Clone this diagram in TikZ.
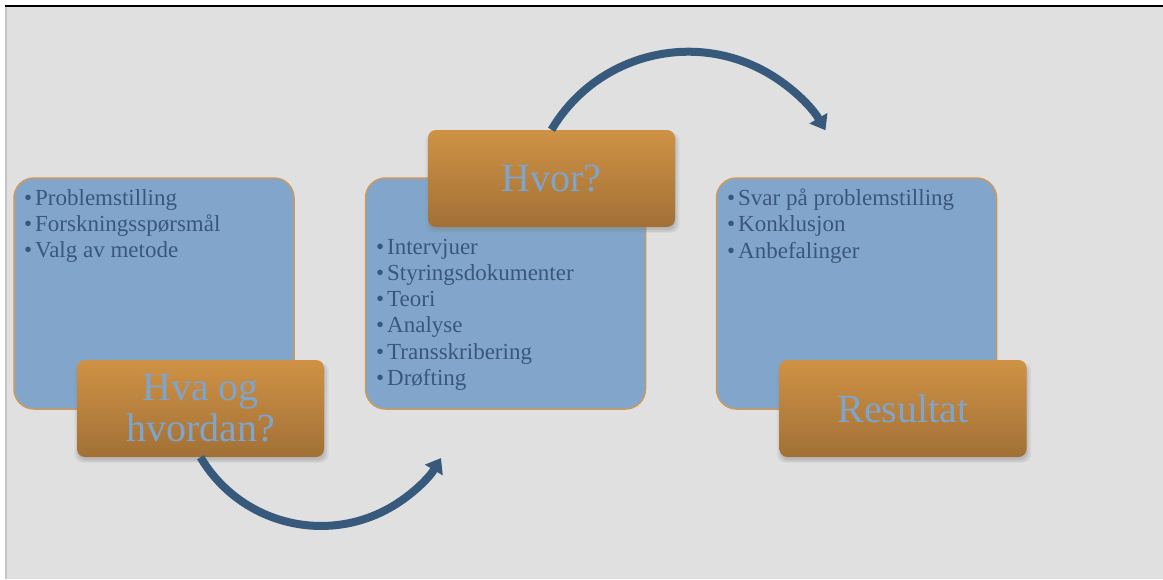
\documentclass[tikz,border=0pt]{standalone}
\usepackage{fontspec}
\setmainfont{Liberation Serif}
\usetikzlibrary{arrows.meta,shadows}

\definecolor{bggray}{HTML}{E0E0E0}
\definecolor{framegray}{HTML}{C4C4C4}
\definecolor{boxblue}{HTML}{82A6CB}
\definecolor{boxline}{HTML}{C99A5E}
\definecolor{itemblue}{HTML}{3A577A}
\definecolor{headblue}{HTML}{7DA5CE}
\definecolor{orangetop}{HTML}{CF9245}
\definecolor{orangemid}{HTML}{BB8440}
\definecolor{orangebot}{HTML}{A27036}
\definecolor{arrowblue}{HTML}{375A7C}

\tikzset{
  bluebox/.style={draw=boxline, line width=1.5pt, fill=boxblue,
    rounded corners=20pt, minimum width=280pt, minimum height=231pt, inner sep=0pt},
  orangebox/.style={rounded corners=8pt, top color=orangetop, middle color=orangemid,
    bottom color=orangebot, minimum width=247pt, minimum height=97pt, inner sep=0pt,
    align=center, text=headblue, font=\fontsize{40}{41}\selectfont,
    drop shadow={shadow xshift=1pt, shadow yshift=-4pt, opacity=.10, shadow scale=1.03},
    drop shadow={shadow xshift=1pt, shadow yshift=-4pt, opacity=.14, shadow scale=1.015},
    drop shadow={shadow xshift=1pt, shadow yshift=-3pt, opacity=.2}},
  item/.style={anchor=base west, inner sep=0pt, text=itemblue,
    font=\fontsize{23}{26}\selectfont},
  flow/.style={line width=8pt, draw=arrowblue, -{Triangle[length=14pt,width=20pt]}}
}
\newcommand{\bul}{\makebox[11pt][l]{\textbullet}}

\begin{document}
\begin{tikzpicture}[x=1pt, y=-1pt]
            \useasboundingbox (0, 0) rectangle (1163, 579);
            \fill[white] (0, 0) rectangle (1163, 579);
            \fill[bggray] (6, 6) rectangle (1163, 579);
            \draw[line width=2pt, black] (5, 6) -- (1163, 6);
            \draw[line width=2pt, framegray] (6, 7) -- (6, 579);

            % blue boxes
            \node[bluebox] at(154, 293.5)(boxa){};
            \node[bluebox] at(505.5, 293.5)(boxb){};
            \node[bluebox] at(856.5, 293.5)(boxc){};

            \foreach \t [count=\i] in {Problemstilling, Forskningsspørsmål, Valg av metode}
                \node[item] at(24, 205+26.3*\i-26.3)(pa\i){\bul\t};

            \foreach \t [count=\i] in {Intervjuer, Styringsdokumenter, Teori, Analyse, Transskribering, Drøfting}
                \node[item] at(376, 254.3+26.2*\i-26.2)(pb\i){\bul\t};

            \foreach \t [count=\i] in {Svar på problemstilling, Konklusjon, Anbefalinger}
                \node[item] at(727, 205.5+26.3*\i-26.3)(pc\i){\bul\t};

            % orange heads
            \node[orangebox] at(200.5, 408.5)(hva){Hva og\\hvordan?};
            \node[orangebox] at(551.5, 178.5)(hvor){Hvor?};
            \node[orangebox] at(903, 408.5)(res){Resultat};

            % arrows
            \draw[flow] (hva.south) arc[start angle=149.4, end angle=31, radius=140];
            \draw[flow] (hvor.north) arc[start angle=-149.4, end angle=-30.4, radius=159];
\end{tikzpicture}
\end{document}
